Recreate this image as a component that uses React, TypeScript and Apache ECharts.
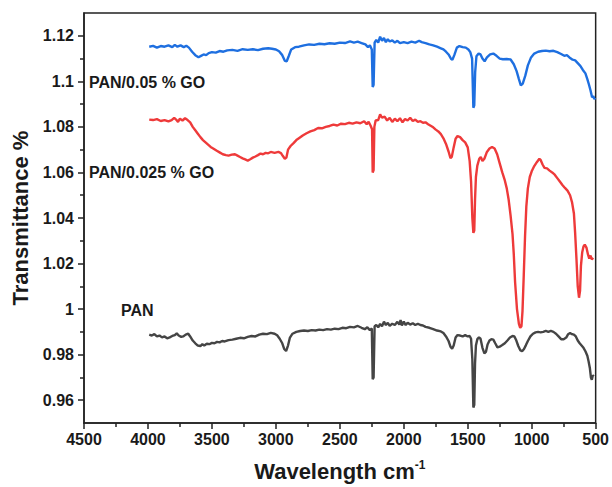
import React, { useEffect, useRef } from "react";
import * as echarts from "echarts";

const seriesNames = ["PAN/0.05 % GO", "PAN/0.025 % GO", "PAN"];
const seriesColors = ["#1e6fe0", "#ee3a3a", "#454545"];

const yMajorTicks = [0.96, 0.98, 1.0, 1.02, 1.04, 1.06, 1.08, 1.1, 1.12];
const yMinorTicks = [0.97, 0.99, 1.01, 1.03, 1.05, 1.07, 1.09, 1.11];

const goHigh: [number, number][] = [
  [3990,1.1152],[3960,1.1156],[3930,1.1148],[3900,1.1155],[3870,1.1152],[3840,1.1158],[3810,1.1150],[3790,1.1160],[3770,1.1152],[3745,1.1158],[3720,1.1150],[3700,1.1156],[3680,1.1148],[3655,1.1130],[3630,1.1115],[3605,1.1106],[3585,1.1112],[3565,1.1118],[3545,1.1115],[3525,1.1124],[3500,1.1128],[3470,1.1126],[3440,1.1133],[3410,1.1130],[3380,1.1136],[3340,1.1138],[3300,1.1134],[3260,1.1141],[3220,1.1138],[3180,1.1141],[3140,1.1137],[3100,1.1143],[3060,1.1145],[3030,1.1143],[3000,1.1140],[2975,1.1132],[2950,1.1115],[2930,1.1090],[2915,1.1088],[2900,1.1110],[2880,1.1140],[2850,1.1150],[2820,1.1152],[2780,1.1158],[2740,1.1162],[2700,1.1160],[2660,1.1165],[2620,1.1163],[2580,1.1167],[2540,1.1165],[2500,1.1170],[2460,1.1168],[2420,1.1175],[2390,1.1170],[2360,1.1174],[2330,1.1168],[2300,1.1162],[2280,1.1150],[2265,1.1158],[2250,1.1140],[2243,1.0975],[2236,1.0985],[2228,1.1170],[2215,1.1182],[2200,1.1170],[2185,1.1196],[2170,1.1178],[2155,1.1190],[2140,1.1172],[2125,1.1185],[2110,1.1175],[2090,1.1180],[2070,1.1170],[2050,1.1178],[2030,1.1168],[2000,1.1172],[1970,1.1168],[1940,1.1174],[1910,1.1170],[1880,1.1178],[1860,1.1172],[1830,1.1168],[1800,1.1162],[1770,1.1158],[1740,1.1152],[1710,1.1145],[1690,1.1140],[1670,1.1130],[1650,1.1118],[1630,1.1098],[1620,1.1095],[1605,1.1115],[1585,1.1148],[1565,1.1155],[1540,1.1150],[1515,1.1148],[1495,1.1140],[1480,1.1128],[1466,1.1100],[1456,1.0884],[1449,1.0895],[1442,1.1040],[1432,1.1110],[1415,1.1122],[1400,1.1118],[1385,1.1100],[1368,1.1088],[1350,1.1105],[1325,1.1118],[1300,1.1122],[1275,1.1112],[1250,1.1100],[1225,1.1097],[1195,1.1098],[1165,1.1096],[1140,1.1075],[1118,1.1045],[1100,1.1010],[1085,1.0982],[1070,1.0990],[1050,1.1025],[1030,1.1070],[1005,1.1105],[980,1.1122],[950,1.1130],[920,1.1133],[890,1.1135],[860,1.1132],[830,1.1134],[800,1.1128],[770,1.1120],[745,1.1112],[725,1.1115],[705,1.1105],[680,1.1095],[660,1.1092],[640,1.1080],[620,1.1068],[600,1.1050],[580,1.1035],[565,1.1010],[552,1.0985],[540,1.0960],[528,1.0930],[518,1.0935],[510,1.0922],[504,1.0928]
];

const goLow: [number, number][] = [
  [3990,1.0832],[3960,1.0830],[3930,1.0834],[3900,1.0826],[3870,1.0830],[3840,1.0824],[3815,1.0830],[3795,1.0840],[3780,1.0832],[3765,1.0822],[3750,1.0836],[3730,1.0828],[3710,1.0838],[3690,1.0830],[3670,1.0820],[3650,1.0800],[3630,1.0785],[3610,1.0770],[3590,1.0755],[3570,1.0742],[3550,1.0732],[3530,1.0722],[3510,1.0712],[3490,1.0705],[3465,1.0696],[3440,1.0688],[3415,1.0680],[3390,1.0676],[3370,1.0674],[3345,1.0678],[3320,1.0680],[3300,1.0674],[3280,1.0668],[3260,1.0662],[3240,1.0657],[3220,1.0652],[3200,1.0658],[3180,1.0665],[3160,1.0670],[3140,1.0676],[3120,1.0683],[3100,1.0680],[3080,1.0686],[3060,1.0684],[3040,1.0690],[3010,1.0686],[2980,1.0690],[2960,1.0685],[2945,1.0672],[2930,1.0660],[2918,1.0665],[2905,1.0700],[2885,1.0716],[2860,1.0730],[2840,1.0742],[2820,1.0750],[2790,1.0762],[2760,1.0772],[2730,1.0780],[2700,1.0786],[2670,1.0795],[2640,1.0794],[2610,1.0800],[2580,1.0804],[2550,1.0810],[2520,1.0806],[2490,1.0814],[2460,1.0812],[2430,1.0818],[2400,1.0814],[2370,1.0820],[2340,1.0816],[2310,1.0825],[2290,1.0812],[2275,1.0822],[2260,1.0806],[2248,1.0790],[2243,1.0600],[2236,1.0610],[2230,1.0800],[2220,1.0828],[2200,1.0830],[2185,1.0855],[2170,1.0840],[2150,1.0845],[2130,1.0828],[2110,1.0840],[2090,1.0822],[2070,1.0836],[2050,1.0825],[2030,1.0838],[2010,1.0820],[1990,1.0835],[1970,1.0828],[1950,1.0840],[1930,1.0826],[1910,1.0832],[1890,1.0822],[1870,1.0825],[1850,1.0818],[1830,1.0820],[1810,1.0812],[1790,1.0805],[1770,1.0798],[1750,1.0788],[1730,1.0780],[1710,1.0768],[1690,1.0750],[1670,1.0725],[1650,1.0692],[1635,1.0663],[1625,1.0668],[1610,1.0710],[1595,1.0748],[1580,1.0760],[1560,1.0755],[1540,1.0742],[1520,1.0732],[1500,1.0710],[1485,1.0650],[1474,1.0560],[1464,1.0400],[1456,1.0335],[1449,1.0345],[1443,1.0480],[1436,1.0580],[1425,1.0630],[1410,1.0660],[1398,1.0668],[1385,1.0650],[1370,1.0660],[1350,1.0690],[1330,1.0705],[1310,1.0712],[1290,1.0705],[1270,1.0680],[1250,1.0640],[1230,1.0600],[1210,1.0565],[1195,1.0530],[1180,1.0480],[1165,1.0410],[1150,1.0330],[1140,1.0240],[1130,1.0120],[1115,1.0000],[1100,0.9935],[1090,0.9918],[1080,0.9925],[1072,0.9990],[1062,1.0150],[1052,1.0320],[1042,1.0450],[1030,1.0530],[1015,1.0580],[1000,1.0605],[980,1.0628],[960,1.0645],[940,1.0660],[930,1.0655],[915,1.0635],[900,1.0620],[880,1.0618],[860,1.0608],[840,1.0600],[820,1.0590],[800,1.0575],[780,1.0560],[760,1.0545],[740,1.0532],[720,1.0520],[700,1.0500],[685,1.0470],[670,1.0420],[660,1.0330],[650,1.0220],[640,1.0100],[630,1.0050],[622,1.0080],[615,1.0190],[605,1.0250],[595,1.0275],[585,1.0283],[572,1.0270],[560,1.0240],[550,1.0222],[540,1.0235],[530,1.0218],[520,1.0225]
];

const pan: [number, number][] = [
  [3990,0.9888],[3970,0.9884],[3950,0.9890],[3930,0.9880],[3910,0.9884],[3890,0.9876],[3870,0.9880],[3850,0.9872],[3830,0.9876],[3810,0.9882],[3790,0.9886],[3775,0.9894],[3760,0.9884],[3740,0.9878],[3725,0.9880],[3705,0.9888],[3685,0.9892],[3670,0.9880],[3650,0.9862],[3630,0.9850],[3610,0.9840],[3590,0.9838],[3575,0.9846],[3560,0.9840],[3540,0.9848],[3520,0.9846],[3500,0.9852],[3480,0.9850],[3460,0.9856],[3440,0.9854],[3420,0.9860],[3400,0.9858],[3370,0.9864],[3340,0.9866],[3310,0.9870],[3280,0.9874],[3250,0.9872],[3220,0.9878],[3190,0.9882],[3160,0.9880],[3130,0.9888],[3100,0.9892],[3070,0.9890],[3040,0.9896],[3010,0.9892],[2990,0.9885],[2970,0.9870],[2950,0.9850],[2935,0.9825],[2920,0.9816],[2905,0.9840],[2890,0.9875],[2870,0.9892],[2840,0.9900],[2810,0.9904],[2780,0.9906],[2750,0.9904],[2720,0.9908],[2690,0.9906],[2660,0.9910],[2630,0.9908],[2600,0.9912],[2570,0.9910],[2540,0.9914],[2510,0.9912],[2480,0.9918],[2450,0.9916],[2420,0.9922],[2390,0.9920],[2360,0.9926],[2330,0.9918],[2305,0.9912],[2285,0.9920],[2265,0.9908],[2250,0.9915],[2243,0.9692],[2236,0.9700],[2228,0.9925],[2215,0.9930],[2200,0.9920],[2185,0.9935],[2170,0.9925],[2155,0.9945],[2140,0.9930],[2125,0.9940],[2110,0.9926],[2090,0.9936],[2070,0.9930],[2050,0.9944],[2035,0.9932],[2025,0.9952],[2015,0.9928],[2000,0.9945],[1985,0.9930],[1970,0.9940],[1950,0.9932],[1930,0.9938],[1910,0.9930],[1890,0.9936],[1870,0.9930],[1850,0.9928],[1830,0.9922],[1800,0.9918],[1770,0.9912],[1740,0.9906],[1710,0.9902],[1690,0.9895],[1670,0.9880],[1650,0.9860],[1635,0.9835],[1622,0.9826],[1610,0.9840],[1595,0.9875],[1580,0.9886],[1560,0.9884],[1540,0.9880],[1520,0.9886],[1500,0.9880],[1485,0.9882],[1474,0.9870],[1464,0.9780],[1456,0.9568],[1449,0.9580],[1443,0.9760],[1436,0.9840],[1425,0.9868],[1412,0.9876],[1400,0.9870],[1385,0.9830],[1370,0.9806],[1358,0.9812],[1345,0.9845],[1330,0.9862],[1315,0.9868],[1300,0.9866],[1285,0.9850],[1268,0.9832],[1250,0.9835],[1230,0.9842],[1210,0.9850],[1190,0.9862],[1170,0.9875],[1150,0.9882],[1135,0.9880],[1120,0.9862],[1105,0.9838],[1090,0.9820],[1075,0.9815],[1060,0.9825],[1045,0.9842],[1030,0.9860],[1010,0.9880],[990,0.9892],[970,0.9898],[950,0.9900],[930,0.9898],[910,0.9900],[890,0.9904],[870,0.9900],[850,0.9904],[830,0.9900],[810,0.9892],[790,0.9880],[770,0.9868],[750,0.9868],[730,0.9875],[715,0.9890],[700,0.9895],[685,0.9890],[670,0.9888],[655,0.9880],[640,0.9862],[625,0.9850],[610,0.9840],[595,0.9830],[580,0.9815],[565,0.9795],[555,0.9770],[545,0.9740],[537,0.9700],[530,0.9690],[522,0.9710],[515,0.9705]
];

const seriesData = [goHigh, goLow, pan];

const FONT = '"Liberation Sans", Arial, sans-serif';

export default function App() {
  const ref = useRef<HTMLDivElement>(null);
  useEffect(() => {
    document.body.style.margin = "0";
    if (!ref.current) return;
    const chart = echarts.init(ref.current, null, { renderer: "svg" });
    const labelText = (t: string, x: number, y: number) => ({
      type: "text",
      x,
      y,
      style: {
        text: t,
        fill: "#1a1a1a",
        font: `bold 16px ${FONT}`,
        verticalAlign: "middle",
        align: "left",
      },
    });
    chart.setOption({
      animation: false,
      backgroundColor: "#ffffff",
      grid: {
        left: 84,
        right: 14,
        top: 13,
        bottom: 63,
        show: true,
        borderColor: "#222",
        borderWidth: 1.5,
        backgroundColor: "transparent",
      },
      xAxis: {
        type: "value",
        min: 500,
        max: 4500,
        interval: 500,
        inverse: true,
        name: "Wavelength cm{sup|-1}",
        nameLocation: "middle",
        nameGap: 36,
        nameTextStyle: {
          fontFamily: FONT,
          fontWeight: "bold",
          fontSize: 22,
          color: "#1a1a1a",
          rich: {
            sup: {
              fontFamily: FONT,
              fontWeight: "bold",
              fontSize: 12,
              color: "#1a1a1a",
              verticalAlign: "top",
              padding: [0, 0, 12, 0],
            },
          },
        },
        axisLine: { lineStyle: { color: "#222", width: 1.5 } },
        axisTick: { show: true, length: 6, lineStyle: { color: "#222", width: 1.5 } },
        minorTick: { show: true, splitNumber: 2, length: 4, lineStyle: { color: "#222", width: 1.5 } },
        splitLine: { show: false },
        minorSplitLine: { show: false },
        axisLabel: {
          fontFamily: FONT,
          fontWeight: "bold",
          fontSize: 16,
          color: "#1a1a1a",
          margin: 8,
          formatter: (v: number) => String(Math.round(v)),
        },
      },
      yAxis: [
        {
          type: "value",
          min: 0.95,
          max: 1.13,
          name: "Transmittance %",
          nameLocation: "middle",
          nameGap: 52,
          nameTextStyle: {
            fontFamily: FONT,
            fontWeight: "bold",
            fontSize: 22,
            color: "#1a1a1a",
          },
          axisLine: { lineStyle: { color: "#222", width: 1.5 } },
          axisTick: {
            show: true,
            length: 6,
            customValues: yMajorTicks,
            lineStyle: { color: "#222", width: 1.5 },
          },
          splitLine: { show: false },
          axisLabel: {
            customValues: yMajorTicks,
            fontFamily: FONT,
            fontWeight: "bold",
            fontSize: 16,
            color: "#1a1a1a",
            margin: 10,
            formatter: (v: number) => String(parseFloat(v.toFixed(2))),
          },
        },
        {
          type: "value",
          min: 0.95,
          max: 1.13,
          position: "left",
          axisLine: { show: false },
          axisLabel: { show: false },
          splitLine: { show: false },
          axisTick: {
            show: true,
            length: 4,
            customValues: yMinorTicks,
            lineStyle: { color: "#222", width: 1.5 },
          },
        },
      ],
      series: seriesNames.map((n, i) => ({
        name: n,
        type: "line",
        yAxisIndex: 0,
        data: seriesData[i],
        showSymbol: false,
        symbol: "none",
        lineStyle: { color: seriesColors[i], width: 2.4 },
        itemStyle: { color: seriesColors[i] },
      })),
      graphic: [
        labelText(seriesNames[0], 89, 82),
        labelText(seriesNames[1], 89, 172),
        labelText(seriesNames[2], 121, 310),
      ],
    });
    return () => chart.dispose();
  }, []);
  return (
    <div
      ref={ref}
      style={{ position: "fixed", left: 0, top: 0, width: 612, height: 487 }}
    />
  );
}
